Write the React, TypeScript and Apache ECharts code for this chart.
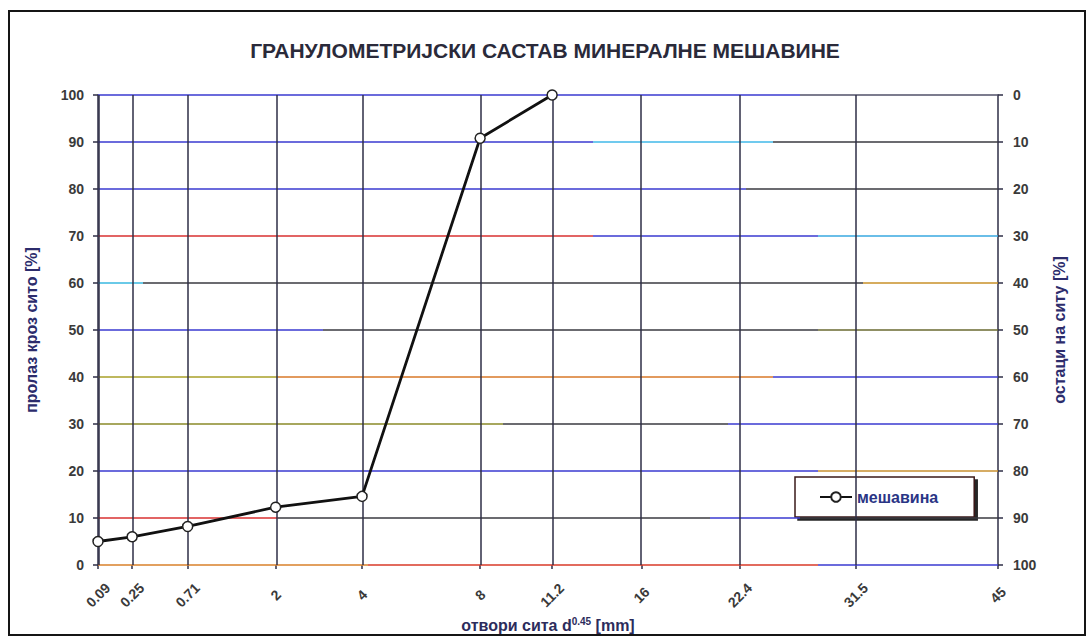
import React, { useEffect, useRef } from "react";
import * as echarts from "echarts";

// ---- data ----
const EXPONENT = 0.45;
const sieveSizes = [0.09, 0.25, 0.71, 2, 4, 8, 11.2, 16, 22.4, 31.5, 45];
const sieveLabels = ["0.09", "0.25", "0.71", "2", "4", "8", "11.2", "16", "22.4", "31.5", "45"];
const mixSieves = [0.09, 0.25, 0.71, 2, 4, 8, 11.2];
const mixPassing = [5, 6, 8.2, 12.3, 14.6, 90.8, 100];
const percentTicks = [0, 10, 20, 30, 40, 50, 60, 70, 80, 90, 100];
const seriesName = "мешавина";

// ---- styles (gridline colour segments: [start fraction, colour]) ----
const hGridColors: [number, string][][] = [
  [[0, "#d8802a"], [0.3, "#d83a28"], [0.8, "#3a3ad0"]], // 0
  [[0, "#d83030"], [0.2, "#3a3a40"], [0.68, "#3a3ad0"], [0.78, "#3a3a40"]], // 10
  [[0, "#3a3ad0"], [0.6, "#3a3ad0"], [0.8, "#c89030"]], // 20
  [[0, "#8a8a28"], [0.45, "#3a3a40"], [0.7, "#3a3ad0"]], // 30
  [[0, "#a8a028"], [0.2, "#d87828"], [0.75, "#3a3ad0"]], // 40
  [[0, "#3a3ad0"], [0.25, "#3a3a40"], [0.8, "#6a6a30"]], // 50
  [[0, "#38b8e0"], [0.05, "#3a3a40"], [0.85, "#c89028"]], // 60
  [[0, "#d83030"], [0.55, "#3a3ad0"], [0.8, "#38a8e0"]], // 70
  [[0, "#3a3ad0"], [0.72, "#3a3a40"]], // 80
  [[0, "#3a3ad0"], [0.55, "#40b8e8"], [0.75, "#3a3a40"]], // 90
  [[0, "#3a3ad0"], [0.78, "#505068"]], // 100
];

const toAxis = (d: number) => Math.pow(d, EXPONENT);
const xMin = toAxis(sieveSizes[0]);
const xMax = toAxis(sieveSizes[sieveSizes.length - 1]);
const FONT = "Liberation Sans, Arial, sans-serif";

export default function App() {
  const ref = useRef<HTMLDivElement>(null);
  useEffect(() => {
    if (!ref.current) return;
    const chart = echarts.init(ref.current, null, { renderer: "svg" });

    const hLines: any[] = [];
    percentTicks.forEach((v, i) => {
      const segs = hGridColors[i];
      segs.forEach((seg, k) => {
        const f0 = seg[0];
        const f1 = k + 1 < segs.length ? segs[k + 1][0] : 1;
        hLines.push([
          { coord: [xMin + f0 * (xMax - xMin), v], lineStyle: { color: seg[1], width: 1.6, type: "solid" } },
          { coord: [xMin + f1 * (xMax - xMin), v] },
        ]);
      });
    });
    const vLines = sieveSizes.map((d) => ({
      xAxis: toAxis(d),
      lineStyle: { color: "#2e2e46", width: 1.5, type: "solid" },
    }));

    const labelStyle = {
      fontSize: 14,
      fontWeight: "bold",
      color: "#3a3a3a",
      fontFamily: FONT,
    };

    chart.setOption({
      animation: false,
      backgroundColor: "#ffffff",
      title: {
        text: "ГРАНУЛОМЕТРИЈСКИ САСТАВ МИНЕРАЛНЕ МЕШАВИНЕ",
        left: "center",
        top: 35,
        textStyle: { fontSize: 21, fontWeight: "bold", color: "#2a2a3a", fontFamily: FONT },
      },
      graphic: [
        {
          type: "rect",
          shape: { x: 9, y: 11, width: 1076, height: 624 },
          style: { fill: "none", stroke: "#151515", lineWidth: 2 },
          silent: true,
        },
      ],
      legend: {
        data: [seriesName],
        left: 795,
        top: 477,
        padding: [12, 36, 12, 24],
        itemWidth: 32,
        itemHeight: 12,
        itemGap: 5,
        backgroundColor: "#ffffff",
        borderColor: "#3a1818",
        borderWidth: 1.5,
        shadowColor: "rgba(0,0,0,0.85)",
        shadowBlur: 1,
        shadowOffsetX: 3,
        shadowOffsetY: 3,
        textStyle: { fontSize: 16, fontWeight: "bold", color: "#2a3585", fontFamily: FONT },
      },
      grid: { left: 98, right: 92, top: 95, bottom: 75, containLabel: false },
      xAxis: {
        type: "value",
        min: xMin,
        max: xMax,
        name: "{a|отвори сита d}{s|0.45}{a| [mm]}",
        nameLocation: "middle",
        nameGap: 47,
        nameTextStyle: {
          rich: {
            a: { fontSize: 16, fontWeight: "bold", color: "#2c2c5c", fontFamily: FONT },
            s: { fontSize: 10, fontWeight: "bold", color: "#2c2c5c", verticalAlign: "top", padding: [0, 0, 7, 0], fontFamily: FONT },
          },
        },
        axisLine: { show: false },
        splitLine: { show: false },
        axisTick: {
          show: true,
          customValues: sieveSizes.map(toAxis),
          length: 4,
          lineStyle: { color: "#2e2e46", width: 1.5 },
        },
        axisLabel: {
          ...labelStyle,
          customValues: sieveSizes.map(toAxis),
          rotate: 45,
          align: "center",
          verticalAlign: "middle",
          margin: 30,
          formatter: (v: number) => {
            const i = sieveSizes.findIndex((d) => Math.abs(toAxis(d) - v) < 1e-6);
            return i < 0 ? "" : sieveLabels[i];
          },
        },
      },
      yAxis: [
        {
          type: "value",
          min: 0,
          max: 100,
          interval: 10,
          position: "left",
          name: "пролаз кроз сито [%]",
          nameLocation: "middle",
          nameRotate: 90,
          nameGap: 59,
          nameTextStyle: { fontSize: 16, fontWeight: "bold", color: "#2c2c6c", fontFamily: FONT },
          axisLine: { show: true, lineStyle: { color: "#2e2e46", width: 1.5 } },
          axisTick: { show: true, length: 5, lineStyle: { color: "#2e2e46", width: 1.5 } },
          splitLine: { show: false },
          axisLabel: { ...labelStyle, margin: 14 },
        },
        {
          type: "value",
          min: 0,
          max: 100,
          interval: 10,
          inverse: true,
          position: "right",
          name: "остаци на ситу [%]",
          nameLocation: "middle",
          nameRotate: 90,
          nameGap: 53,
          nameTextStyle: { fontSize: 16, fontWeight: "bold", color: "#2c2c6c", fontFamily: FONT },
          axisLine: { show: true, lineStyle: { color: "#2e2e46", width: 1.5 } },
          axisTick: { show: true, length: 5, lineStyle: { color: "#2e2e46", width: 1.5 } },
          splitLine: { show: false },
          axisLabel: { ...labelStyle, margin: 15 },
        },
      ],
      series: [
        {
          type: "line",
          data: [],
          z: 1,
          silent: true,
          markLine: {
            silent: true,
            symbol: ["none", "none"],
            label: { show: false },
            animation: false,
            data: [...hLines, ...vLines],
          },
        },
        {
          name: seriesName,
          type: "line",
          z: 5,
          data: mixSieves.map((d, i) => [toAxis(d), mixPassing[i]]),
          symbol: "circle",
          symbolSize: 10,
          showAllSymbol: true,
          lineStyle: { color: "#111111", width: 2.8 },
          itemStyle: { color: "#ffffff", borderColor: "#222222", borderWidth: 1.5 },
        },
      ],
    });
    return () => chart.dispose();
  }, []);
  return (
    <div ref={ref} style={{ position: "fixed", left: 0, top: 0, width: 1090, height: 640 }} />
  );
}
